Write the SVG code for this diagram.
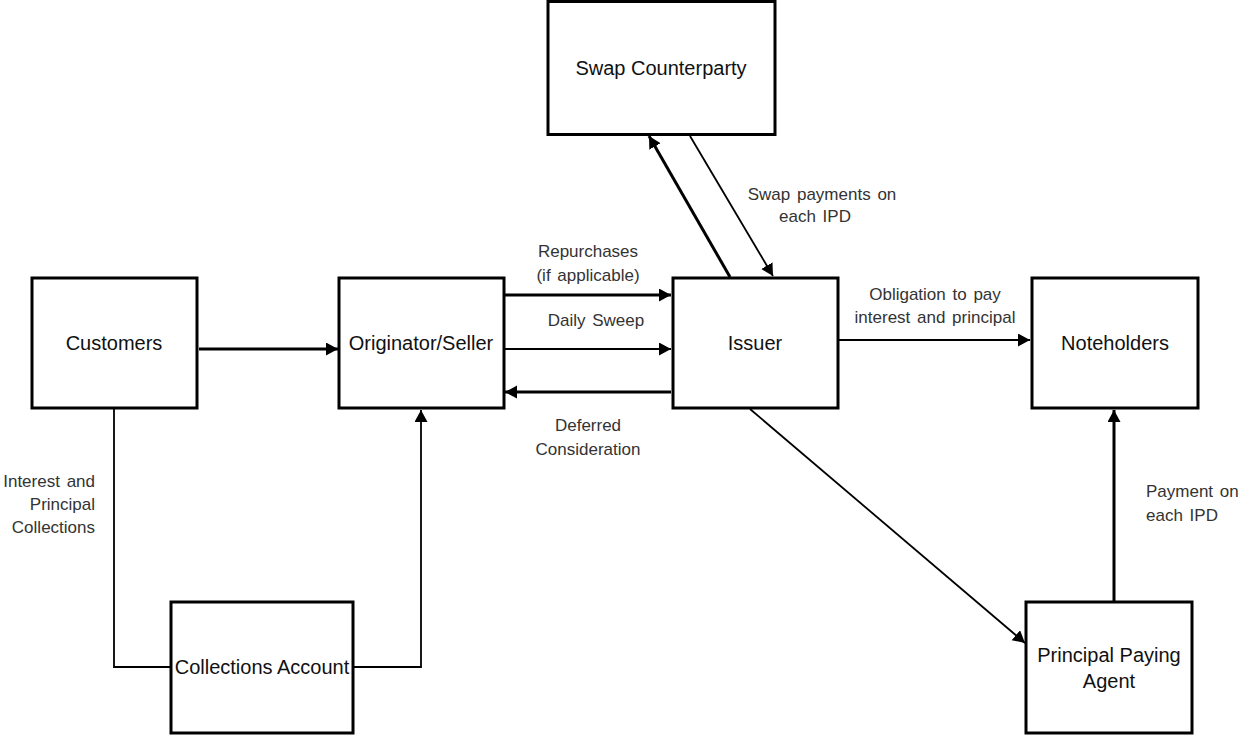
<svg xmlns="http://www.w3.org/2000/svg" width="1244" height="736" viewBox="0 0 1244 736">
<style>
.box{fill:#fff;stroke:#000;stroke-width:3}
.nt{font-family:"Liberation Sans",Arial,sans-serif;font-size:20px;fill:#111;text-anchor:middle}
.lb{font-family:"Liberation Sans",Arial,sans-serif;font-size:17px;fill:#333;word-spacing:2px}
.thick{stroke:#000;stroke-width:3;fill:none}
.thin{stroke:#000;stroke-width:1.8;fill:none}
</style>
<defs>
<marker id="ah" markerUnits="userSpaceOnUse" markerWidth="14" markerHeight="14" refX="12" refY="6.5" orient="auto">
<path d="M0,0 L12,6.5 L0,13 z" fill="#000"/>
</marker>
</defs>
<rect width="1244" height="736" fill="#fff"/>
<g id="connectors">
<line class="thick" x1="199" y1="349" x2="338" y2="349" marker-end="url(#ah)"/>
<polyline class="thin" points="114,409 114,667 171,667"/>
<polyline class="thin" points="354,667 421,667 421,410" marker-end="url(#ah)"/>
<line class="thick" x1="505" y1="295" x2="671" y2="295" marker-end="url(#ah)"/>
<line class="thin" x1="505" y1="349" x2="671" y2="349" marker-end="url(#ah)"/>
<line class="thick" x1="671" y1="392" x2="505" y2="392" marker-end="url(#ah)"/>
<line class="thick" x1="730" y1="277" x2="649" y2="136" marker-end="url(#ah)"/>
<line class="thin" x1="690" y1="136" x2="773" y2="276" marker-end="url(#ah)"/>
<line class="thin" x1="839" y1="340" x2="1030" y2="340" marker-end="url(#ah)"/>
<line class="thin" x1="750" y1="409" x2="1025" y2="643" marker-end="url(#ah)"/>
<line class="thick" x1="1114" y1="601" x2="1114" y2="410" marker-end="url(#ah)"/>
<text class="lb" text-anchor="middle" x="588" y="257">Repurchases</text>
<text class="lb" text-anchor="middle" x="588" y="281">(if applicable)</text>
<text class="lb" text-anchor="middle" x="596" y="326">Daily Sweep</text>
<text class="lb" text-anchor="middle" x="588" y="431">Deferred</text>
<text class="lb" text-anchor="middle" x="588" y="455">Consideration</text>
<text class="lb" text-anchor="middle" x="822" y="200">Swap payments on</text>
<text class="lb" text-anchor="middle" x="815" y="222">each IPD</text>
<text class="lb" text-anchor="middle" x="935" y="300">Obligation to pay</text>
<text class="lb" text-anchor="middle" x="935" y="323">interest and principal</text>
<text class="lb" x="1146" y="497">Payment on</text>
<text class="lb" x="1146" y="521">each IPD</text>
<text class="lb" text-anchor="end" x="95" y="487">Interest and</text>
<text class="lb" text-anchor="end" x="95" y="510">Principal</text>
<text class="lb" text-anchor="end" x="95" y="533">Collections</text>
</g>
<g id="swap"><rect class="box" x="548" y="1.5" width="227" height="133"/><text class="nt" x="661" y="75">Swap Counterparty</text></g>
<g id="customers"><rect class="box" x="32" y="278" width="165" height="130"/><text class="nt" x="114" y="350">Customers</text></g>
<g id="originator"><rect class="box" x="339" y="278" width="165" height="130"/><text class="nt" x="421" y="350">Originator/Seller</text></g>
<g id="issuer"><rect class="box" x="673" y="278" width="165" height="130"/><text class="nt" x="755" y="350">Issuer</text></g>
<g id="noteholders"><rect class="box" x="1032" y="278" width="166" height="130"/><text class="nt" x="1115" y="350">Noteholders</text></g>
<g id="collections"><rect class="box" x="171" y="602" width="182" height="131"/><text class="nt" x="262" y="674">Collections Account</text></g>
<g id="ppa"><rect class="box" x="1026" y="602" width="166" height="131"/><text class="nt" x="1109" y="662">Principal Paying</text><text class="nt" x="1109" y="688">Agent</text></g>
</svg>
